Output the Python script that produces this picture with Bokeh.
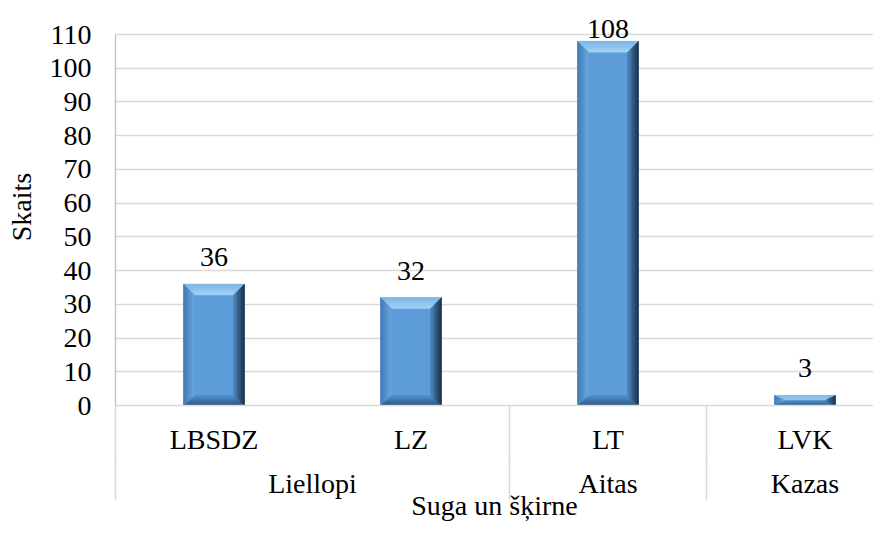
from bokeh.plotting import figure
from bokeh.models import Range1d, FixedTicker, ColumnDataSource, LabelSet, LinearAxis
from bokeh.embed import file_html
from bokeh.resources import INLINE

# ---------------- data ----------------
groups = ["Liellopi", "Liellopi", "Aitas", "Kazas"]
breeds = ["LBSDZ", "LZ", "LT", "LVK"]
counts = [36, 32, 108, 3]
y_ticks = [0, 10, 20, 30, 40, 50, 60, 70, 80, 90, 100, 110]
y_title = "Skaits"
x_title = "Suga un šķirne"

# ---------------- layout ----------------
W, H = 873, 529
BL, BT, BB, BR = 115, 8, 124, 0
FW, FH = W - BL - BR, H - BT - BB
CAT_PX = 197.0                    # pixel width of one category
XMAX = FW / CAT_PX
PY = 371.0 / y_ticks[-1]          # px per y unit
YTOP = FH / PY
FONT = "Liberation Serif, Times New Roman, serif"
FS = "28px"

p = figure(width=W, height=H, output_backend="svg", toolbar_location=None,
           x_range=Range1d(0, XMAX), y_range=Range1d(0, YTOP),
           min_border_left=BL, min_border_top=BT,
           min_border_bottom=BB, min_border_right=BR)
p.outline_line_color = None
p.background_fill_color = "white"
p.border_fill_color = "white"
p.xgrid.visible = False

# ---- y axis ----
yt = FixedTicker(ticks=y_ticks)
p.yaxis.ticker = yt
p.yaxis.bounds = (y_ticks[0], y_ticks[-1])
p.ygrid.ticker = yt
p.ygrid.grid_line_color = "#d9d9d9"
p.ygrid.grid_line_width = 1.5
p.yaxis.axis_line_color = "#bfbfbf"
p.yaxis.axis_line_width = 1.3
p.yaxis.major_tick_line_color = None
p.yaxis.minor_tick_line_color = None
p.yaxis.major_tick_out = 0
p.yaxis.major_tick_in = 0
p.yaxis.major_label_standoff = 24
p.yaxis.major_label_text_font = FONT
p.yaxis.major_label_text_font_size = FS
p.yaxis.major_label_text_color = "black"
p.yaxis.axis_label = y_title
p.yaxis.axis_label_text_font = FONT
p.yaxis.axis_label_text_font_size = FS
p.yaxis.axis_label_text_font_style = "normal"
p.yaxis.axis_label_text_color = "black"
p.yaxis.axis_label_standoff = 10

# ---- two-level category axis ----
centers = [i + 0.5 for i in range(len(breeds))]
g_names, g_centers, seps = [], [], [0.0]
start = 0
for i in range(1, len(groups) + 1):
    if i == len(groups) or groups[i] != groups[start]:
        g_names.append(groups[start])
        g_centers.append((start + i) / 2.0)
        if i < len(groups):
            seps.append(float(i))
        start = i

def style_cat_axis(ax, standoff, sep_len):
    ax.major_tick_line_color = None
    ax.major_tick_out = 0
    ax.major_tick_in = 0
    ax.minor_tick_out = 0
    ax.minor_tick_in = -sep_len          # separator drawn outward without growing the panel
    ax.minor_tick_line_color = "#d9d9d9"
    ax.minor_tick_line_width = 1.5
    ax.major_label_standoff = standoff
    ax.major_label_text_font = FONT
    ax.major_label_text_font_size = FS
    ax.major_label_text_color = "black"

ax1 = p.xaxis[0]
ax1.ticker = FixedTicker(ticks=centers, minor_ticks=seps)
ax1.major_label_overrides = {c: b for c, b in zip(centers, breeds)}
ax1.axis_line_color = "#d9d9d9"
ax1.axis_line_width = 1.5
style_cat_axis(ax1, 18, 56)

ax2 = LinearAxis(ticker=FixedTicker(ticks=g_centers, minor_ticks=seps),
                 major_label_overrides={c: g for c, g in zip(g_centers, g_names)})
ax2.axis_line_color = None
style_cat_axis(ax2, 10, 42)
ax2.axis_label = x_title
ax2.axis_label_text_font = FONT
ax2.axis_label_text_font_size = FS
ax2.axis_label_text_font_style = "normal"
ax2.axis_label_text_color = "black"
ax2.axis_label_standoff = -12
p.add_layout(ax2, "below")

# ---------------- bevelled bars ----------------
def hex2rgb(h):
    h = h.lstrip("#")
    return tuple(int(h[i:i + 2], 16) for i in (0, 2, 4))

def lerp(c1, c2, t):
    a, b = hex2rgb(c1), hex2rgb(c2)
    return "#%02x%02x%02x" % tuple(int(round(a[i] + (b[i] - a[i]) * t)) for i in range(3))

BAR_W = 0.31
FACE = "#5c9cd8"
SIDES = {
    "top": ("#7fb6e6", "#a2d1f6"),
    "left": ("#3f78b0", "#68a7e0"),
    "right": ("#16283c", "#4d87c2"),
    "bottom": ("#27507a", "#5190cb"),
}
N = 5
BEV_X, BEV_T, BEV_B = 11.0, 11.0, 10.0

xs_all, ys_all, cols = [], [], []
qx0, qx1, qtop = [], [], []
for i, v in enumerate(counts):
    cx = centers[i]
    x0, x1, b, t = cx - BAR_W / 2, cx + BAR_W / 2, 0.0, float(v)
    qx0.append(x0); qx1.append(x1); qtop.append(t)
    dx = BEV_X / CAT_PX
    dyt = min(BEV_T / PY, v / 2.0)
    dyb = min(BEV_B / PY, v / 2.0)
    for k in range(N):
        f0, f1 = k / N, (k + 1) / N
        o = (x0 + f0 * dx, x1 - f0 * dx, b + f0 * dyb, t - f0 * dyt)
        n_ = (x0 + f1 * dx, x1 - f1 * dx, b + f1 * dyb, t - f1 * dyt)
        tt = (k + 0.5) / N
        xs_all.append([o[0], o[1], n_[1], n_[0]]); ys_all.append([o[3], o[3], n_[3], n_[3]])
        cols.append(lerp(*SIDES["top"], tt))
        xs_all.append([o[0], o[1], n_[1], n_[0]]); ys_all.append([o[2], o[2], n_[2], n_[2]])
        cols.append(lerp(*SIDES["bottom"], tt))
        xs_all.append([o[0], n_[0], n_[0], o[0]]); ys_all.append([o[3], n_[3], n_[2], o[2]])
        cols.append(lerp(*SIDES["left"], tt))
        xs_all.append([o[1], n_[1], n_[1], o[1]]); ys_all.append([o[3], n_[3], n_[2], o[2]])
        cols.append(lerp(*SIDES["right"], tt))

p.quad(left=qx0, right=qx1, bottom=0, top=qtop, fill_color=FACE, line_color=None)
p.patches(xs=xs_all, ys=ys_all, fill_color=cols, line_color=cols, line_width=0.5)

# ---------------- data labels ----------------
lab_y = [min(v + 18.0 / PY, y_ticks[-1] - 1.0) for v in counts]
src = ColumnDataSource(dict(x=centers, y=lab_y, t=[str(v) for v in counts]))
p.add_layout(LabelSet(x="x", y="y", text="t", source=src, text_align="center",
                      text_baseline="alphabetic", text_font=FONT,
                      text_font_size=FS, text_color="black"))

open("out.html", "w").write(file_html(p, INLINE))
